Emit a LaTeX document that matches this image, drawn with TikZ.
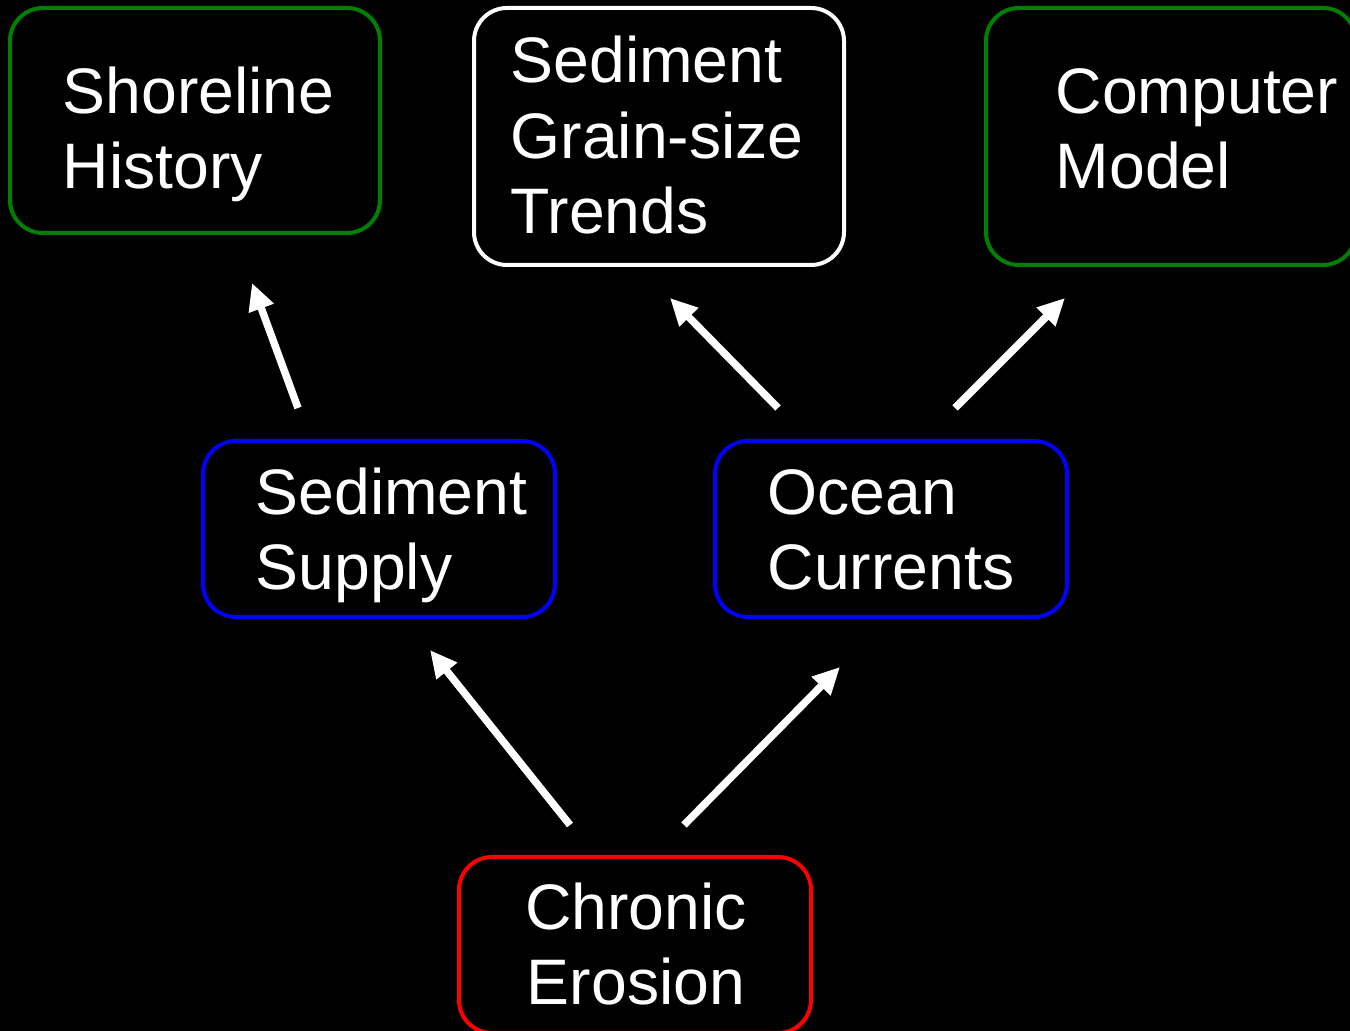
\documentclass[tikz,border=0pt]{standalone}
\usepackage{fontspec}
\setmainfont{Liberation Sans}
\usetikzlibrary{arrows.meta}
\definecolor{boxgreen}{RGB}{0,128,0}
\definecolor{boxblue}{RGB}{0,0,255}
\definecolor{boxred}{RGB}{255,0,0}
\tikzset{
  box/.style={draw, line width=0.04cm, rounded corners=0.33cm, fill=black, inner sep=0pt},
  lbl/.style={text=white, inner sep=0pt, align=left, anchor=base west, font=\fontsize{18.3}{21.6}\selectfont},
  clbl/.style={text=white, inner sep=0pt, align=center, anchor=base, font=\fontsize{18.3}{21.6}\selectfont},
  arr/.style={draw=white, line width=0.075cm, -{Triangle[length=0.27cm,width=0.25cm]}}
}
\begin{document}
\begin{tikzpicture}
\fill[black] (0,0) rectangle (13.5,10.31);
\useasboundingbox (0,0) rectangle (13.5,10.31);
% boxes
\node[box, draw=boxgreen, minimum width=3.70cm, minimum height=2.25cm] (sh) at (1.95,9.105) {};
\node[box, draw=white, minimum width=3.70cm, minimum height=2.57cm] (gs) at (6.59,8.945) {};
\node[box, draw=boxgreen, minimum width=3.70cm, minimum height=2.57cm] (cm) at (11.71,8.945) {};
\node[box, draw=boxblue, minimum width=3.52cm, minimum height=1.76cm] (ss) at (3.79,5.02) {};
\node[box, draw=boxblue, minimum width=3.52cm, minimum height=1.76cm] (oc) at (8.91,5.02) {};
\node[box, draw=boxred, minimum width=3.52cm, minimum height=1.76cm] (ce) at (6.35,0.86) {};
% labels (base anchor = baseline of last line)
\node[lbl] (tsh) at (0.62,8.42) {Shoreline\\History};
\node[lbl] (tgs) at (5.10,7.97) {Sediment\\Grain-size\\Trends};
\node[lbl] (tcm) at (10.55,8.42) {Computer\\Model};
\node[lbl] (tss) at (2.55,4.41) {Sediment\\Supply};
\node[lbl] (toc) at (7.67,4.41) {Ocean\\Currents};
\node[clbl] (tce) at (6.36,0.26) {Chronic\\Erosion};
% arrow end points
\coordinate (a1s) at (2.98,6.23); \coordinate (a1e) at (2.52,7.48);
\coordinate (a2s) at (7.78,6.23); \coordinate (a2e) at (6.70,7.33);
\coordinate (a3s) at (9.55,6.23); \coordinate (a3e) at (10.65,7.33);
\coordinate (a4s) at (5.70,2.06); \coordinate (a4e) at (4.30,3.81);
\coordinate (a5s) at (6.84,2.06); \coordinate (a5e) at (8.40,3.64);
\draw[arr] (a1s) -- (a1e);
\draw[arr] (a2s) -- (a2e);
\draw[arr] (a3s) -- (a3e);
\draw[arr] (a4s) -- (a4e);
\draw[arr] (a5s) -- (a5e);
\end{tikzpicture}
\end{document}
